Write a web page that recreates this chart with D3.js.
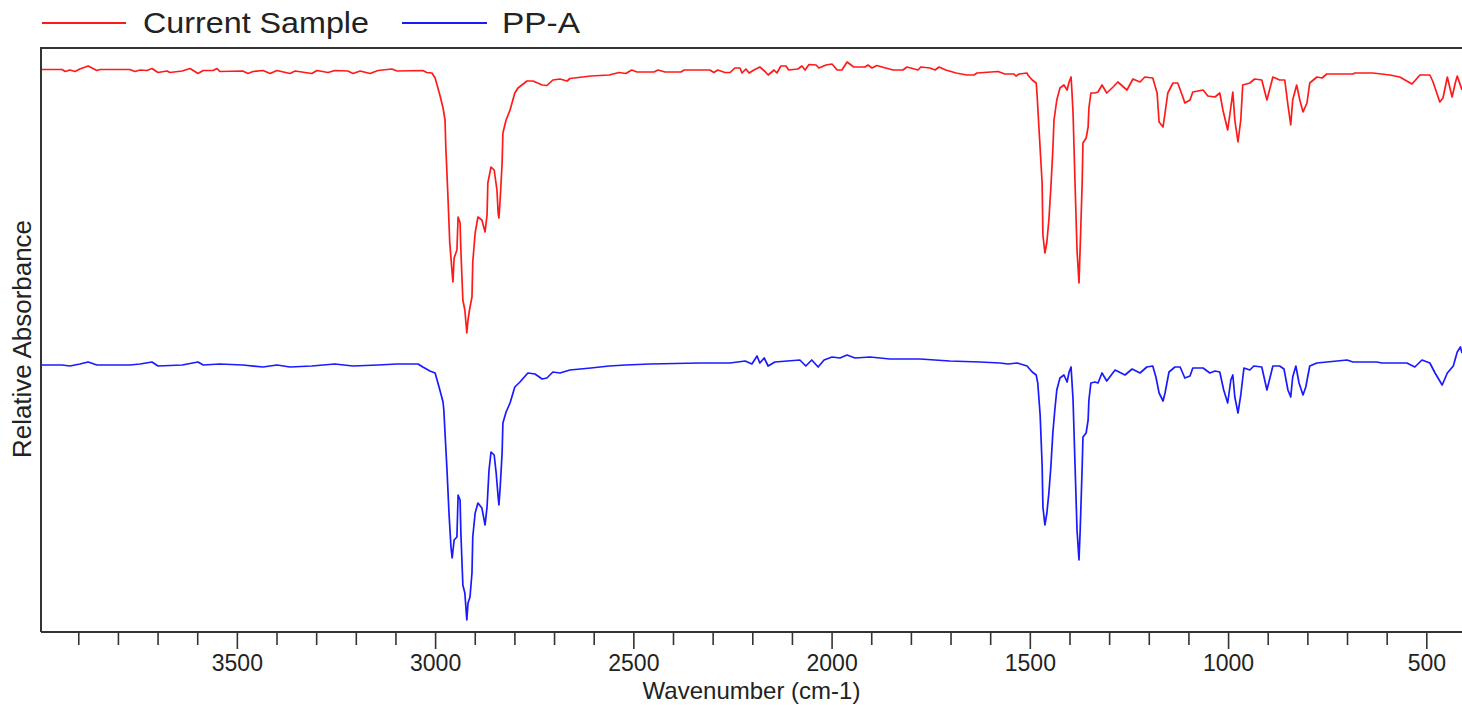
<!DOCTYPE html>
<html>
<head>
<meta charset="utf-8">
<script src="https://cdn.jsdelivr.net/npm/d3@7/dist/d3.min.js"></script>
<style>
  html, body { margin: 0; padding: 0; background: #fff; }
  svg { display: block; }
  text { font-family: "Liberation Sans", Arial, sans-serif; fill: #222; }
</style>
</head>
<body>
<svg id="chart" width="1462" height="705"></svg>
<script>
// ---- data ----
const seriesNames = ["Current Sample", "PP-A"];
const seriesColors = ["#ff1a1a", "#1a1aff"];
const majorTicks = [3500, 3000, 2500, 2000, 1500, 1000, 500];
const minorTicks = [3900, 3800, 3700, 3600, 3400, 3300, 3200, 3100, 2900, 2800, 2700, 2600,
  2400, 2300, 2200, 2100, 1900, 1800, 1700, 1600, 1400, 1300, 1200, 1100, 900, 800, 700, 600];
const xTitle = "Wavenumber (cm-1)";
const yTitle = "Relative Absorbance";

// [wavenumber, relative value]
const currentSample = [[3994,1.125],[3941,1.125],[3933,1.121],[3921,1.124],[3908,1.121],[3896,1.126],[3875,1.132],[3863,1.127],[3853,1.123],[3845,1.125],[3770,1.125],[3757,1.121],[3744,1.124],[3727,1.123],[3714,1.127],[3699,1.119],[3676,1.122],[3669,1.119],[3638,1.122],[3618,1.127],[3598,1.117],[3585,1.123],[3560,1.123],[3550,1.127],[3543,1.121],[3485,1.122],[3472,1.117],[3459,1.121],[3434,1.123],[3416,1.117],[3399,1.123],[3366,1.117],[3353,1.122],[3311,1.117],[3298,1.123],[3270,1.119],[3253,1.123],[3220,1.122],[3207,1.117],[3189,1.122],[3164,1.117],[3144,1.123],[3109,1.126],[3096,1.122],[3031,1.123],[3021,1.119],[3008,1.118],[3000,1.108],[2995,1.094],[2988,1.074],[2980,1.048],[2975,1.024],[2973,0.970],[2968,0.878],[2963,0.778],[2957,0.718],[2955,0.700],[2952,0.748],[2945,0.764],[2942,0.830],[2937,0.818],[2935,0.764],[2930,0.664],[2925,0.644],[2920,0.598],[2917,0.624],[2912,0.650],[2907,0.670],[2905,0.740],[2899,0.798],[2892,0.830],[2882,0.824],[2874,0.800],[2869,0.834],[2867,0.898],[2859,0.930],[2851,0.924],[2844,0.884],[2841,0.838],[2839,0.828],[2836,0.864],[2831,0.938],[2829,0.998],[2821,1.024],[2811,1.044],[2799,1.078],[2791,1.088],[2768,1.102],[2753,1.102],[2730,1.094],[2718,1.093],[2703,1.104],[2685,1.106],[2667,1.102],[2660,1.107],[2607,1.112],[2561,1.114],[2536,1.119],[2519,1.117],[2504,1.124],[2491,1.120],[2448,1.120],[2438,1.124],[2420,1.120],[2380,1.120],[2372,1.124],[2307,1.124],[2297,1.119],[2287,1.124],[2269,1.119],[2256,1.119],[2244,1.128],[2231,1.128],[2226,1.118],[2216,1.126],[2208,1.118],[2196,1.124],[2181,1.130],[2168,1.121],[2160,1.114],[2145,1.124],[2138,1.118],[2128,1.132],[2115,1.132],[2108,1.124],[2085,1.126],[2075,1.132],[2067,1.124],[2057,1.135],[2039,1.134],[2032,1.128],[2014,1.134],[1999,1.136],[1986,1.124],[1974,1.124],[1961,1.140],[1944,1.130],[1916,1.130],[1908,1.134],[1898,1.128],[1886,1.133],[1873,1.130],[1845,1.124],[1820,1.124],[1810,1.130],[1782,1.124],[1775,1.130],[1752,1.128],[1739,1.124],[1729,1.130],[1712,1.124],[1686,1.118],[1659,1.114],[1641,1.114],[1633,1.118],[1598,1.120],[1580,1.121],[1563,1.116],[1540,1.116],[1535,1.112],[1527,1.116],[1507,1.118],[1505,1.114],[1494,1.104],[1484,1.098],[1482,1.078],[1477,1.008],[1469,0.898],[1467,0.794],[1462,0.758],[1457,0.780],[1452,0.824],[1447,0.888],[1442,0.964],[1439,1.024],[1432,1.064],[1424,1.088],[1414,1.094],[1406,1.084],[1401,1.100],[1396,1.110],[1394,1.084],[1391,1.038],[1386,0.898],[1381,0.764],[1376,0.698],[1373,0.770],[1368,0.898],[1366,0.978],[1358,0.988],[1353,1.010],[1351,1.048],[1346,1.078],[1336,1.078],[1328,1.080],[1318,1.094],[1306,1.078],[1290,1.090],[1278,1.100],[1255,1.084],[1240,1.106],[1222,1.100],[1210,1.110],[1190,1.108],[1179,1.078],[1174,1.020],[1164,1.010],[1159,1.038],[1152,1.078],[1139,1.098],[1127,1.098],[1114,1.070],[1109,1.058],[1096,1.064],[1089,1.080],[1063,1.084],[1051,1.072],[1033,1.070],[1021,1.078],[1013,1.044],[1001,1.004],[995,1.038],[988,1.080],[983,1.024],[975,0.980],[968,1.024],[963,1.094],[945,1.098],[933,1.106],[915,1.104],[902,1.064],[887,1.110],[870,1.104],[857,1.104],[849,1.054],[842,1.014],[837,1.064],[827,1.094],[819,1.064],[811,1.040],[801,1.058],[794,1.098],[776,1.110],[763,1.108],[751,1.116],[685,1.116],[680,1.118],[635,1.118],[592,1.114],[567,1.110],[536,1.096],[516,1.114],[491,1.114],[483,1.100],[466,1.060],[458,1.068],[447,1.110],[435,1.070],[427,1.098],[422,1.112],[410,1.084]];

const ppA = [[3994,0.534],[3941,0.534],[3921,0.532],[3896,0.536],[3875,0.540],[3853,0.534],[3770,0.534],[3744,0.536],[3714,0.540],[3699,0.532],[3638,0.534],[3598,0.540],[3585,0.534],[3543,0.536],[3485,0.534],[3434,0.530],[3399,0.534],[3366,0.530],[3311,0.532],[3253,0.536],[3207,0.532],[3144,0.534],[3096,0.536],[3043,0.536],[3031,0.530],[3013,0.522],[3000,0.518],[2995,0.504],[2988,0.484],[2980,0.460],[2978,0.444],[2975,0.398],[2970,0.324],[2965,0.238],[2960,0.170],[2957,0.148],[2952,0.184],[2945,0.190],[2942,0.274],[2937,0.264],[2935,0.198],[2930,0.094],[2925,0.078],[2920,0.024],[2917,0.058],[2912,0.070],[2907,0.118],[2905,0.190],[2899,0.238],[2892,0.258],[2882,0.248],[2874,0.214],[2869,0.250],[2864,0.324],[2859,0.360],[2851,0.354],[2846,0.318],[2841,0.270],[2839,0.254],[2836,0.288],[2831,0.358],[2829,0.418],[2821,0.440],[2811,0.458],[2799,0.490],[2786,0.500],[2766,0.518],[2748,0.516],[2730,0.506],[2718,0.508],[2703,0.520],[2685,0.518],[2660,0.524],[2607,0.528],[2561,0.532],[2519,0.534],[2458,0.536],[2332,0.538],[2256,0.538],[2218,0.542],[2201,0.536],[2188,0.552],[2181,0.538],[2170,0.548],[2160,0.532],[2143,0.540],[2080,0.544],[2065,0.532],[2050,0.544],[2034,0.530],[2019,0.544],[1999,0.550],[1979,0.548],[1961,0.554],[1941,0.548],[1903,0.550],[1853,0.546],[1777,0.546],[1702,0.542],[1626,0.540],[1575,0.538],[1555,0.536],[1532,0.538],[1507,0.532],[1494,0.520],[1484,0.514],[1480,0.498],[1474,0.434],[1469,0.334],[1467,0.250],[1462,0.214],[1457,0.238],[1452,0.278],[1447,0.330],[1442,0.398],[1437,0.444],[1432,0.484],[1424,0.508],[1414,0.514],[1406,0.500],[1401,0.520],[1396,0.530],[1394,0.504],[1391,0.464],[1386,0.334],[1381,0.204],[1376,0.144],[1373,0.204],[1368,0.330],[1366,0.390],[1358,0.398],[1353,0.424],[1351,0.464],[1346,0.498],[1336,0.500],[1328,0.498],[1318,0.518],[1306,0.502],[1285,0.524],[1260,0.514],[1242,0.526],[1222,0.518],[1205,0.530],[1190,0.532],[1182,0.510],[1174,0.478],[1164,0.462],[1159,0.478],[1149,0.520],[1134,0.530],[1121,0.530],[1109,0.508],[1096,0.512],[1089,0.528],[1063,0.528],[1046,0.518],[1033,0.522],[1021,0.520],[1011,0.484],[1001,0.458],[993,0.504],[988,0.514],[983,0.470],[975,0.438],[968,0.474],[960,0.528],[945,0.524],[935,0.532],[915,0.530],[902,0.484],[887,0.532],[870,0.532],[859,0.526],[849,0.484],[842,0.470],[837,0.510],[829,0.532],[821,0.498],[811,0.474],[804,0.490],[794,0.532],[776,0.538],[700,0.544],[685,0.540],[625,0.540],[612,0.538],[549,0.538],[529,0.530],[511,0.544],[491,0.538],[478,0.518],[460,0.494],[447,0.518],[432,0.532],[422,0.560],[414,0.570],[410,0.558]];

const xDomain = [3994, 410];
const yDomain = [0, 1.168];

// ---- layout ----
const svg = d3.select("#chart");
const pLeft = 41, pRight = 1462, pTop = 48, pBottom = 632;

const x = d3.scaleLinear().domain(xDomain).range([pLeft, pRight]);
const y = d3.scaleLinear().domain(yDomain).range([pBottom, pTop]);

svg.append("defs").append("clipPath").attr("id", "plotclip")
  .append("rect").attr("x", pLeft).attr("y", pTop).attr("width", pRight - pLeft + 2).attr("height", pBottom - pTop);

const line = d3.line().x(d => x(d[0])).y(d => y(d[1]));

const plot = svg.append("g").attr("clip-path", "url(#plotclip)");
[currentSample, ppA].forEach((s, i) => {
  plot.append("path").datum(s)
    .attr("d", line)
    .attr("fill", "none")
    .attr("stroke", seriesColors[i])
    .attr("stroke-width", 1.7)
    .attr("stroke-linejoin", "round");
});

// frame (top + left)
const framePath = d3.path();
framePath.moveTo(pLeft, pBottom);
framePath.lineTo(pLeft, pTop);
framePath.lineTo(pRight + 5, pTop);
svg.append("path").attr("d", framePath.toString())
  .attr("fill", "none").attr("stroke", "#333").attr("stroke-width", 2);

// axes
const minorAxis = d3.axisBottom(x).tickValues(minorTicks).tickSize(13).tickFormat("").tickSizeOuter(0);
const majorAxis = d3.axisBottom(x).tickValues(majorTicks).tickSize(17).tickPadding(6).tickSizeOuter(0)
  .tickFormat(d3.format("d"));

const gMinor = svg.append("g").attr("transform", `translate(0,${pBottom})`).call(minorAxis);
gMinor.select(".domain").remove();
gMinor.selectAll(".tick line").attr("stroke", "#333").attr("stroke-width", 1.6);

const gMajor = svg.append("g").attr("transform", `translate(0,${pBottom})`).call(majorAxis);
gMajor.select(".domain").remove();
gMajor.selectAll(".tick line").attr("stroke", "#333").attr("stroke-width", 1.6);
gMajor.selectAll(".tick text").attr("font-size", 23).attr("font-family", "Liberation Sans, Arial, sans-serif").attr("fill", "#222");

svg.append("line").attr("x1", pLeft).attr("x2", pRight + 5).attr("y1", pBottom).attr("y2", pBottom)
  .attr("stroke", "#333").attr("stroke-width", 2);

// axis titles
svg.append("text").attr("x", (pLeft + pRight) / 2).attr("y", 699)
  .attr("text-anchor", "middle").attr("font-size", 24).text(xTitle);

svg.append("text").attr("transform", `translate(31,339) rotate(-90)`)
  .attr("text-anchor", "middle").attr("font-size", 25)
  .attr("textLength", 238).attr("lengthAdjust", "spacingAndGlyphs").text(yTitle);

// legend
const legendItems = [
  { lx1: 42, lx2: 126, tx: 143, tw: 226 },
  { lx1: 402, lx2: 487, tx: 502, tw: 78 }
];
legendItems.forEach((L, i) => {
  svg.append("line").attr("x1", L.lx1).attr("x2", L.lx2).attr("y1", 23).attr("y2", 23)
    .attr("stroke", seriesColors[i]).attr("stroke-width", 2);
  svg.append("text").attr("x", L.tx).attr("y", 33).attr("font-size", 29)
    .attr("textLength", L.tw).attr("lengthAdjust", "spacingAndGlyphs").text(seriesNames[i]);
});
</script>
</body>
</html>
